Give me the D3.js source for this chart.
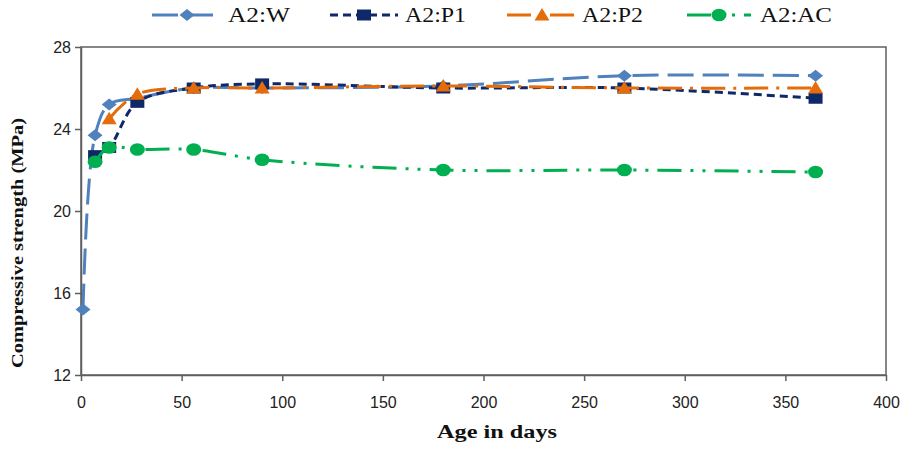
<!DOCTYPE html>
<html>
<head>
<meta charset="utf-8">
<script src="https://cdn.jsdelivr.net/npm/d3@7/dist/d3.min.js"></script>
<style>
  html, body { margin: 0; padding: 0; background: #fff; }
  svg { display: block; }
</style>
</head>
<body>
<svg id="chart" width="907" height="449"></svg>
<script>
// Compressive strength development of A2 mixes (MPa) vs curing age (days)
const daysW  = [1, 7, 14, 28, 56, 90, 180, 270, 365];
const valsW  = [15.2, 23.7, 25.2, 25.5, 26.0, 26.0, 26.1, 26.6, 26.6];
const daysP1 = [7, 14, 28, 56, 90, 180, 270, 365];
const valsP1 = [22.7, 23.1, 25.3, 26.0, 26.2, 26.0, 26.0, 25.5];
const daysP2 = [14, 28, 56, 90, 180, 270, 365];
const valsP2 = [24.5, 25.7, 26.0, 26.0, 26.1, 26.0, 26.0];
const daysAC = [7, 14, 28, 56, 90, 180, 270, 365];
const valsAC = [22.4, 23.1, 23.0, 23.0, 22.5, 22.0, 22.0, 21.9];

const seriesNames = ["A2:W", "A2:P1", "A2:P2", "A2:AC"];
const xTicks = [0, 50, 100, 150, 200, 250, 300, 350, 400];
const yTicks = [12, 16, 20, 24, 28];

const styles = [
  { color: "#4F81BD", dash: "26,9",              marker: "diamond"  },
  { color: "#0E2868", dash: "8,5",               marker: "square"   },
  { color: "#E46C0A", dash: "24,8,3,8",          marker: "triangle" },
  { color: "#00B050", dash: "24,9,3,9,3,9",      marker: "circle"   }
];

const series = [
  daysW.map((d, i) => [d, valsW[i]]),
  daysP1.map((d, i) => [d, valsP1[i]]),
  daysP2.map((d, i) => [d, valsP2[i]]),
  daysAC.map((d, i) => [d, valsAC[i]])
];

const svg = d3.select("#chart");
const L = 81, R = 886, T = 47, B = 375;

const x = d3.scaleLinear().domain([0, 400]).range([L, R]);
const y = d3.scaleLinear().domain([12, 28]).range([B, T]);

// plot frame
svg.append("rect")
  .attr("x", L).attr("y", T).attr("width", R - L).attr("height", B - T)
  .attr("fill", "none").attr("stroke", "#5f5f5f").attr("stroke-width", 1.5);

// axes
const xAxis = d3.axisBottom(x).tickValues(xTicks).tickSize(6).tickSizeOuter(0).tickPadding(16);
const yAxis = d3.axisLeft(y).tickValues(yTicks).tickSize(6).tickSizeOuter(0).tickPadding(4);

const gx = svg.append("g").attr("transform", `translate(0,${B})`).call(xAxis);
const gy = svg.append("g").attr("transform", `translate(${L},0)`).call(yAxis);
[gx, gy].forEach(g => {
  g.select(".domain").attr("stroke", "#5f5f5f").attr("stroke-width", 1.5);
  g.selectAll(".tick line").attr("stroke", "#5f5f5f").attr("stroke-width", 1.5);
  g.selectAll(".tick text")
    .attr("font-family", "Liberation Sans Narrow, Liberation Sans, Arial, sans-serif")
    .attr("font-size", 16).attr("fill", "#222");
});

// marker shapes (slightly wider than tall)
function markerPath(type) {
  switch (type) {
    case "diamond":  return "M0,-6L7.5,0L0,6L-7.5,0Z";
    case "square":   return "M-7,-5.5H7V5.5H-7Z";
    case "triangle": return "M0,-7L7.5,5.5H-7.5Z";
    default:         return null;
  }
}
function drawMarker(g, type, color, cx, cy) {
  if (type === "circle") {
    g.append("ellipse").attr("cx", cx).attr("cy", cy).attr("rx", 7.5).attr("ry", 6.3)
      .attr("fill", color);
  } else {
    g.append("path").attr("d", markerPath(type))
      .attr("transform", `translate(${cx},${cy})`).attr("fill", color);
  }
}

const line = d3.line()
  .x(d => x(d[0])).y(d => y(d[1]))
  .curve(d3.curveCatmullRom.alpha(0.5));

series.forEach((pts, i) => {
  const st = styles[i];
  const g = svg.append("g");
  g.append("path").datum(pts).attr("d", line)
    .attr("fill", "none").attr("stroke", st.color).attr("stroke-width", 3)
    .attr("stroke-dasharray", st.dash);
  pts.forEach(p => drawMarker(g, st.marker, st.color, x(p[0]), y(p[1])));
});

// legend
const legendItems = [
  { x1: 152, x2: 222, tx: 228, tw: 62 },
  { x1: 330, x2: 398, tx: 405, tw: 61 },
  { x1: 507, x2: 577, tx: 582, tw: 61 },
  { x1: 687, x2: 751, tx: 760, tw: 72 }
];
const ly = 15;
legendItems.forEach((it, i) => {
  const st = styles[i];
  const g = svg.append("g");
  g.append("line").attr("x1", it.x1).attr("x2", it.x2).attr("y1", ly).attr("y2", ly)
    .attr("stroke", st.color).attr("stroke-width", 3).attr("stroke-dasharray", st.dash);
  drawMarker(g, st.marker, st.color, (it.x1 + it.x2) / 2, ly);
  g.append("text").attr("x", it.tx).attr("y", ly + 7)
    .attr("font-family", "Liberation Serif, Times New Roman, serif")
    .attr("font-size", 20).attr("fill", "#111")
    .attr("textLength", it.tw).attr("lengthAdjust", "spacingAndGlyphs")
    .text(seriesNames[i]);
});

// axis titles
svg.append("text")
  .attr("x", 497).attr("y", 438).attr("text-anchor", "middle")
  .attr("font-family", "Liberation Serif, Times New Roman, serif")
  .attr("font-weight", "bold").attr("font-size", 19).attr("fill", "#111")
  .attr("textLength", 120).attr("lengthAdjust", "spacingAndGlyphs")
  .text("Age in days");

svg.append("text")
  .attr("transform", "translate(23,243) rotate(-90)")
  .attr("text-anchor", "middle")
  .attr("font-family", "Liberation Serif, Times New Roman, serif")
  .attr("font-weight", "bold").attr("font-size", 17).attr("fill", "#111")
  .attr("textLength", 250).attr("lengthAdjust", "spacingAndGlyphs")
  .text("Compressive strength  (MPa)");
</script>
</body>
</html>
